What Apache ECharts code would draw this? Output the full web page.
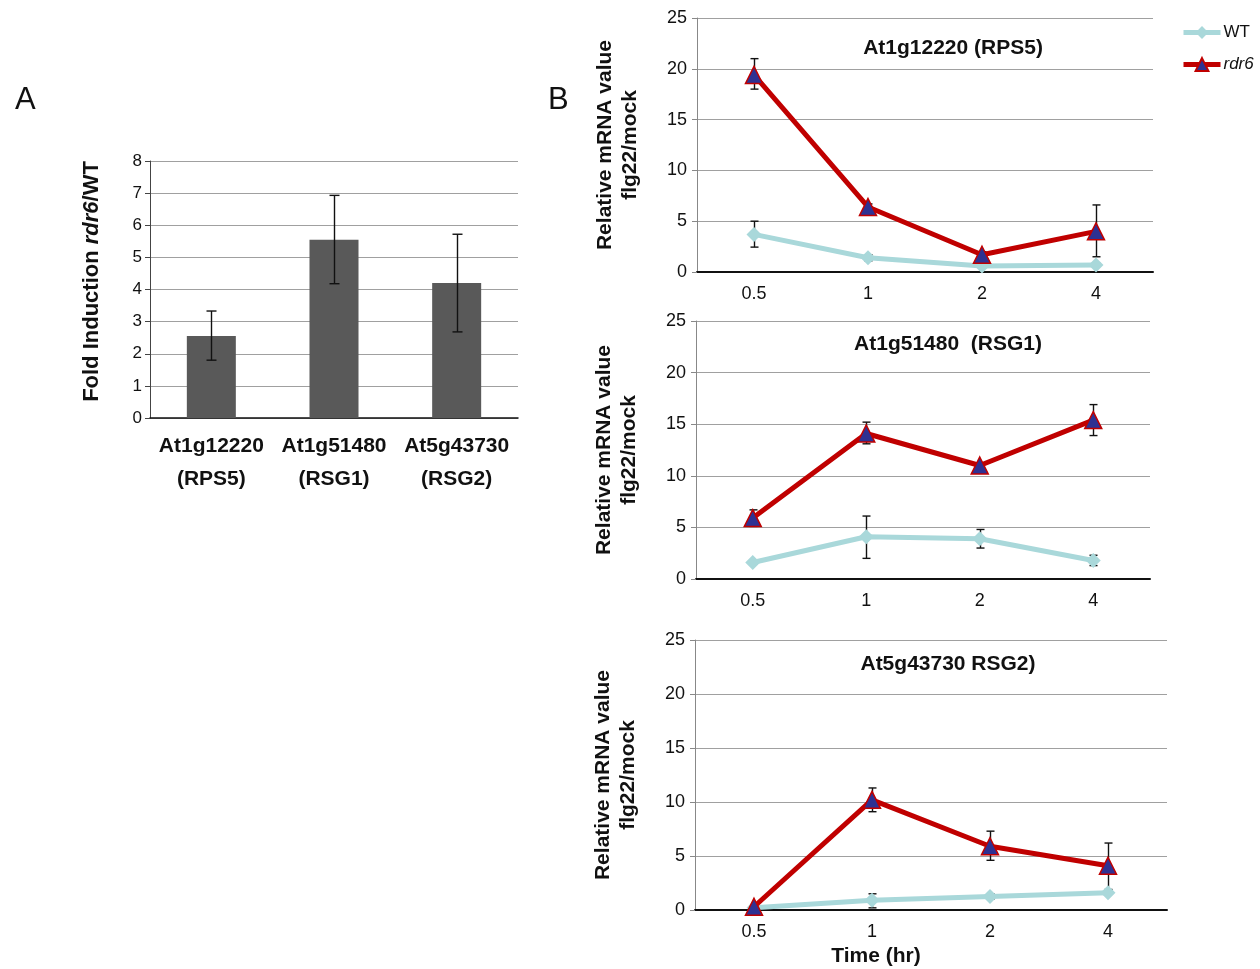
<!DOCTYPE html>
<html>
<head>
<meta charset="utf-8">
<script src="https://cdn.jsdelivr.net/npm/echarts@6/dist/echarts.min.js"></script>
<style>html,body{margin:0;padding:0;background:#fff}#c{width:1260px;height:969px}</style>
</head>
<body>
<div id="c"></div>
<script>
// Panel A data
const genesA = ['At1g12220\n(RPS5)', 'At1g51480\n(RSG1)', 'At5g43730\n(RSG2)'];
const foldA = [2.55, 5.55, 4.2];
const foldLow = [1.8, 4.18, 2.68];
const foldHigh = [3.33, 6.93, 5.72];

// Panel B data
const times = ['0.5', '1', '2', '4'];
const titlesB = ['At1g12220 (RPS5)', 'At1g51480  (RSG1)', 'At5g43730 RSG2)'];
const wt1 = [3.7, 1.4, 0.6, 0.7];
const wt1Low = [2.45, 1.1, 0.45, 0.55];
const wt1High = [5.0, 1.7, 0.75, 0.85];
const rdr1 = [19.4, 6.4, 1.7, 4.0];
const rdr1Low = [18.0, 6.1, 1.4, 1.5];
const rdr1High = [21.0, 6.7, 2.0, 6.6];
const wt2 = [1.6, 4.1, 3.9, 1.8];
const wt2Low = [1.45, 2.0, 3.0, 1.3];
const wt2High = [1.75, 6.1, 4.8, 2.3];
const rdr2 = [5.9, 14.1, 11.0, 15.4];
const rdr2Low = [5.1, 13.1, 10.8, 13.9];
const rdr2High = [6.7, 15.2, 11.2, 16.9];
const wt3 = [0.2, 0.9, 1.25, 1.6];
const wt3Low = [0.1, 0.2, 1.0, 1.5];
const wt3High = [0.3, 1.5, 1.5, 1.7];
const rdr3 = [0.3, 10.2, 5.9, 4.1];
const rdr3Low = [0.2, 9.1, 4.6, 1.9];
const rdr3High = [0.4, 11.3, 7.3, 6.2];

const WT_COLOR = '#a9d8da';
const RDR_COLOR = '#c00000';
const TRI_FILL = '#2e3192';
const GRID_COLOR = '#a0a0a0';
const FONT = 'Liberation Sans, Arial, sans-serif';

function errSeries(xIdx, yIdx, lows, highs, capHalf) {
  return {
    type: 'custom', xAxisIndex: xIdx, yAxisIndex: yIdx, z: 1, silent: true,
    data: lows.map((l, i) => [i, l, highs[i]]),
    renderItem: function (params, api) {
      const x = Math.round(api.coord([api.value(0), 0])[0]) + 0.5;
      const lo = api.coord([api.value(0), api.value(1)])[1];
      const hi = api.coord([api.value(0), api.value(2)])[1];
      const st = { stroke: '#111', lineWidth: 1.4 };
      return { type: 'group', children: [
        { type: 'line', shape: { x1: x, y1: lo, x2: x, y2: hi }, style: st },
        { type: 'line', shape: { x1: x - capHalf, y1: lo, x2: x + capHalf, y2: lo }, style: st },
        { type: 'line', shape: { x1: x - capHalf, y1: hi, x2: x + capHalf, y2: hi }, style: st }
      ]};
    }
  };
}

const gridsB = [
  { left: 697, width: 456, top: 18, height: 254 },
  { left: 696, width: 454, top: 321, height: 258 },
  { left: 695, width: 472, top: 640, height: 270 }
];
const wtB = [wt1, wt2, wt3], wtLoB = [wt1Low, wt2Low, wt3Low], wtHiB = [wt1High, wt2High, wt3High];
const rdB = [rdr1, rdr2, rdr3], rdLoB = [rdr1Low, rdr2Low, rdr3Low], rdHiB = [rdr1High, rdr2High, rdr3High];

const grids = [{ left: 150, width: 368, top: 161, height: 257 }].concat(gridsB);

const xAxes = [{
  type: 'category', gridIndex: 0, data: genesA,
  axisLine: { lineStyle: { color: '#111', width: 1.5 } },
  axisTick: { length: 6, lineStyle: { color: '#111', width: 1.5 } },
  axisLabel: { interval: 0, color: '#111', fontFamily: FONT, fontSize: 21, fontWeight: 'bold', lineHeight: 33, margin: 12 }
}];
const yAxes = [{
  type: 'value', gridIndex: 0, min: 0, max: 8, interval: 1,
  axisLine: { show: true, lineStyle: { color: '#444' } },
  axisTick: { show: true, length: 5, lineStyle: { color: '#444' } },
  axisLabel: { color: '#111', fontFamily: FONT, fontSize: 17, margin: 8 },
  splitLine: { lineStyle: { color: GRID_COLOR, width: 1.2 } },
  name: '{b|Fold Induction }{i|rdr6}{b|/WT}', nameLocation: 'middle', nameRotate: 90, nameGap: 47,
  nameTextStyle: { padding: [0, 0, 0, 16], rich: {
    b: { fontFamily: FONT, fontSize: 22, fontWeight: 'bold', color: '#111' },
    i: { fontFamily: FONT, fontSize: 22, fontWeight: 'bold', fontStyle: 'italic', color: '#111' }
  } }
}];
gridsB.forEach((g, k) => {
  xAxes.push({
    type: 'category', gridIndex: k + 1, data: times, boundaryGap: true,
    axisLine: { lineStyle: { color: '#111', width: 2 } },
    axisTick: { length: 6, lineStyle: { color: '#111', width: 1.5 } },
    axisLabel: { color: '#111', fontFamily: FONT, fontSize: 18, margin: 13 }
  });
  yAxes.push({
    type: 'value', gridIndex: k + 1, min: 0, max: 25, interval: 5,
    axisLine: { show: true, lineStyle: { color: '#888' } },
    axisTick: { show: true, length: 5, lineStyle: { color: '#888' } },
    axisLabel: { color: '#111', fontFamily: FONT, fontSize: 18, margin: 10 },
    splitLine: { lineStyle: { color: GRID_COLOR, width: 1.2 } },
    name: 'Relative mRNA value\nflg22/mock', nameLocation: 'middle', nameRotate: 90, nameGap: 54,
    nameTextStyle: { color: '#111', fontFamily: FONT, fontSize: 21, fontWeight: 'bold', lineHeight: 25 }
  });
});

const series = [{
  type: 'bar', xAxisIndex: 0, yAxisIndex: 0, data: foldA, barWidth: 49,
  itemStyle: { color: '#595959' }, z: 1, silent: true
}, Object.assign(errSeries(0, 0, foldLow, foldHigh, 5), { z: 3 })];

gridsB.forEach((g, k) => {
  series.push(errSeries(k + 1, k + 1, wtLoB[k], wtHiB[k], 4));
  series.push(errSeries(k + 1, k + 1, rdLoB[k], rdHiB[k], 4));
  series.push({
    name: 'WT', type: 'line', xAxisIndex: k + 1, yAxisIndex: k + 1, data: wtB[k], z: 2,
    symbol: 'diamond', symbolSize: 15, lineStyle: { color: WT_COLOR, width: 5 },
    itemStyle: { color: WT_COLOR }, silent: true
  });
  series.push({
    name: 'rdr6', type: 'line', xAxisIndex: k + 1, yAxisIndex: k + 1, data: rdB[k], z: 3,
    symbol: 'triangle', symbolSize: 17, lineStyle: { color: RDR_COLOR, width: 5 },
    itemStyle: { color: TRI_FILL, borderColor: RDR_COLOR, borderWidth: 1.5 }, silent: true
  });
});

const titleCenters = [948, 943, 943];
const titleTops = [33, 329, 649];
const titles = [
  { text: 'A', left: 10, top: 80, textStyle: { fontFamily: FONT, fontSize: 31, fontWeight: 'normal', color: '#111' } },
  { text: 'B', left: 543, top: 80, textStyle: { fontFamily: FONT, fontSize: 31, fontWeight: 'normal', color: '#111' } },
  { text: 'Time (hr)', left: 871, top: 941, textAlign: 'center', textStyle: { fontFamily: FONT, fontSize: 21, fontWeight: 'bold', color: '#111' } }
];
titlesB.forEach((t, k) => titles.push({
  text: t, left: titleCenters[k], top: titleTops[k], textAlign: 'center',
  textStyle: { fontFamily: FONT, fontSize: 21, fontWeight: 'bold', color: '#111' }
}));

const chart = echarts.init(document.getElementById('c'), null, { renderer: 'canvas' });
chart.setOption({
  animation: false,
  backgroundColor: '#fff',
  title: titles,
  grid: grids,
  xAxis: xAxes,
  yAxis: yAxes,
  legend: {
    orient: 'vertical', left: 1176, top: 19, itemWidth: 37, itemHeight: 16, itemGap: 15,
    lineStyle: { width: 5 },
    data: [
      { name: 'WT', textStyle: { fontStyle: 'normal' } },
      { name: 'rdr6', textStyle: { fontStyle: 'italic' } }
    ],
    textStyle: { fontFamily: FONT, fontSize: 17, color: '#111', padding: [0, 0, 0, -2] }
  },
  series: series
});
</script>
</body>
</html>
